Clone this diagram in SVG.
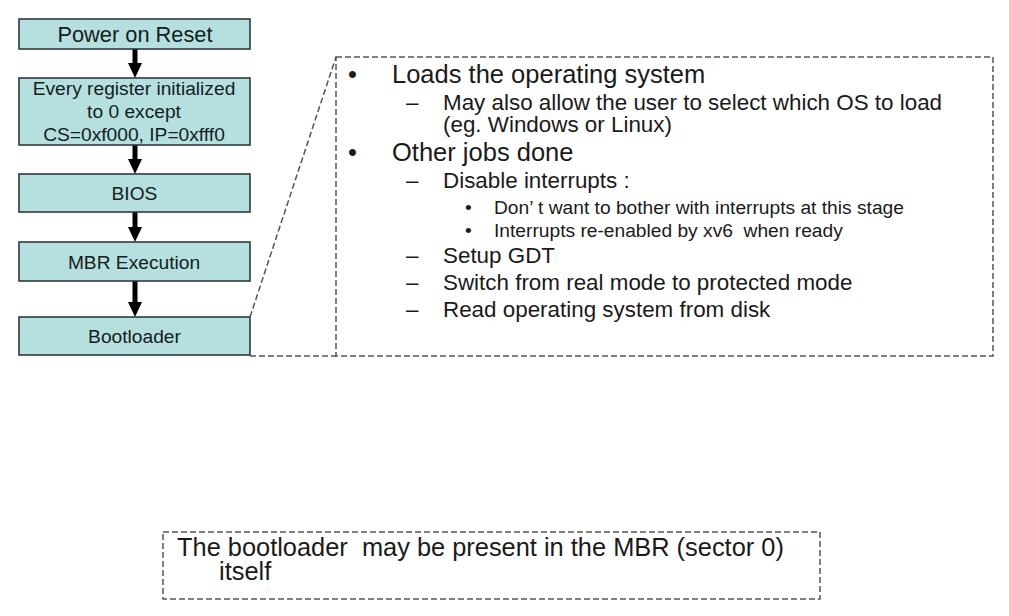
<svg xmlns="http://www.w3.org/2000/svg" width="1009" height="616" viewBox="0 0 1009 616">
  <style>
    .box { fill: #b6e0e0; stroke: #2e3a3c; stroke-width: 1.6; }
    .btxt { font-family: "Liberation Sans", Arial, sans-serif; fill: #142020; text-anchor: middle; }
    .arrow { stroke: #000; stroke-width: 5; fill: none; }
    .dash { fill: none; stroke: #555; stroke-width: 1.5; stroke-dasharray: 6 3; }
    .t { font-family: "Liberation Sans", Arial, sans-serif; fill: #1a1a1a; }
    .l1 { font-size: 25.5px; }
    .l2 { font-size: 22.4px; }
    .l3 { font-size: 19.2px; }
  </style>
  <defs>
    <marker id="head" viewBox="0 0 15 14" refX="1" refY="7" markerWidth="15" markerHeight="14" markerUnits="userSpaceOnUse" orient="auto">
      <path d="M0,0 L15,7 L0,14 z" fill="#000"/>
    </marker>
  </defs>
  <rect width="1009" height="616" fill="#fff"/>

  <g id="connectors">
    <line class="arrow" x1="135" y1="49" x2="135" y2="64" marker-end="url(#head)"/>
    <line class="arrow" x1="135" y1="145" x2="135" y2="160" marker-end="url(#head)"/>
    <line class="arrow" x1="135" y1="212" x2="135" y2="228" marker-end="url(#head)"/>
    <line class="arrow" x1="135" y1="281" x2="135" y2="303" marker-end="url(#head)"/>
    <line class="dash" x1="250" y1="317" x2="336" y2="57"/>
    <line class="dash" x1="250" y1="356" x2="336" y2="356"/>
  </g>

  <g id="power-on-reset">
    <rect class="box" x="19" y="19" width="231" height="30"/>
    <text class="btxt" x="135" y="42" font-size="21.8">Power on Reset</text>
  </g>
  <g id="registers">
    <rect class="box" x="19" y="78" width="231" height="67"/>
    <text class="btxt" x="134" y="95" font-size="19.2">Every register initialized</text>
    <text class="btxt" x="134" y="118" font-size="19.2">to 0 except</text>
    <text class="btxt" x="134" y="141" font-size="19.2">CS=0xf000, IP=0xfff0</text>
  </g>
  <g id="bios">
    <rect class="box" x="19" y="174" width="231" height="38"/>
    <text class="btxt" x="134.5" y="200" font-size="19.2">BIOS</text>
  </g>
  <g id="mbr-execution">
    <rect class="box" x="19" y="242" width="231" height="39"/>
    <text class="btxt" x="134" y="269" font-size="19.2">MBR Execution</text>
  </g>
  <g id="bootloader">
    <rect class="box" x="19" y="317" width="231" height="38"/>
    <text class="btxt" x="134.5" y="343" font-size="19.2">Bootloader</text>
  </g>

  <g id="bootloader-details">
    <rect class="dash" x="336" y="57" width="657" height="299"/>
    <text class="t l1" x="348" y="83">•</text>
    <text class="t l1" x="392" y="83">Loads the operating system</text>
    <text class="t l2" x="406" y="110">–</text>
    <text class="t l2" x="443" y="110">May also allow the user to select which OS to load</text>
    <text class="t l2" x="443" y="132">(eg. Windows or Linux)</text>
    <text class="t l1" x="348" y="161">•</text>
    <text class="t l1" x="392" y="161">Other jobs done</text>
    <text class="t l2" x="406" y="188">–</text>
    <text class="t l2" x="443" y="188">Disable interrupts :</text>
    <text class="t l3" x="465" y="214">•</text>
    <text class="t l3" x="494" y="214">Don’ t want to bother with interrupts at this stage</text>
    <text class="t l3" x="465" y="237">•</text>
    <text class="t l3" x="494" y="237" xml:space="preserve">Interrupts re-enabled by xv6  when ready</text>
    <text class="t l2" x="406" y="263">–</text>
    <text class="t l2" x="443" y="263">Setup GDT</text>
    <text class="t l2" x="406" y="290">–</text>
    <text class="t l2" x="443" y="290">Switch from real mode to protected mode</text>
    <text class="t l2" x="406" y="317">–</text>
    <text class="t l2" x="443" y="317">Read operating system from disk</text>
  </g>

  <g id="note">
    <rect class="dash" x="163" y="532" width="657" height="67"/>
    <text class="t" x="177" y="556" font-size="25.4" xml:space="preserve">The bootloader  may be present in the MBR (sector 0)</text>
    <text class="t" x="219" y="580" font-size="25.4">itself</text>
  </g>
</svg>
